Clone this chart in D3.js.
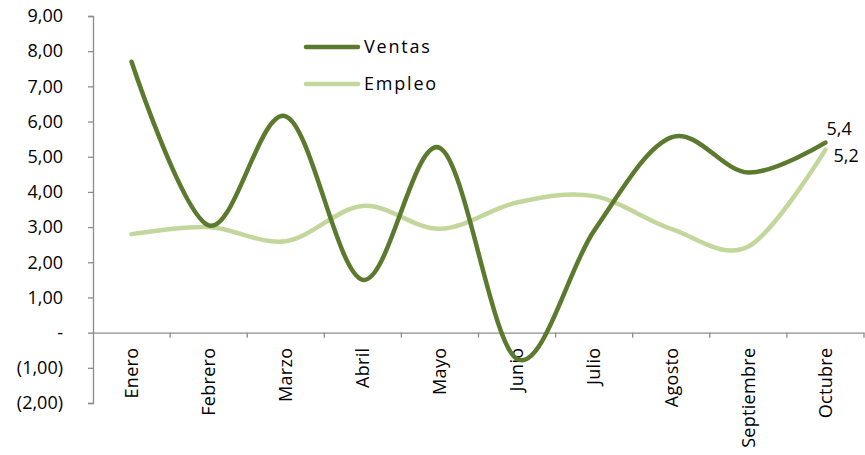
<!DOCTYPE html>
<html>
<head>
<meta charset="utf-8">
<script src="https://cdn.jsdelivr.net/npm/d3@7"></script>
<style>
  body { margin: 0; background: #fff; }
  svg text { font-family: "Open Sans", "DejaVu Sans", sans-serif; fill: #000; }
</style>
</head>
<body>
<svg id="chart" width="865" height="455"></svg>
<script>
const months = ['Enero', 'Febrero', 'Marzo', 'Abril', 'Mayo', 'Junio', 'Julio', 'Agosto', 'Septiembre', 'Octubre'];
const ventas = [7.7, 3.05, 6.15, 1.5, 5.25, -0.75, 2.9, 5.55, 4.55, 5.4];
const empleo = [2.8, 3.0, 2.6, 3.6, 2.95, 3.7, 3.88, 2.95, 2.45, 5.2];
const yTicks = [9, 8, 7, 6, 5, 4, 3, 2, 1, 0, -1, -2];

const svg = d3.select('#chart');
const margin = { top: 16, right: 1, bottom: 52, left: 93 };
const width = 865 - margin.left - margin.right;
const height = 455 - margin.top - margin.bottom;

const g = svg.append('g').attr('transform', `translate(${margin.left},${margin.top})`);

const x = d3.scaleBand().domain(months).range([0, width]);
const y = d3.scaleLinear().domain([-2, 9]).range([height, 0]);

const fmt = v => {
  if (v === 0) return '-';
  const s = Math.abs(v).toFixed(2).replace('.', ',');
  return v < 0 ? `(${s})` : s;
};

// y axis
const yAxis = g.append('g')
  .call(d3.axisLeft(y).tickValues(yTicks).tickFormat(fmt).tickSize(5).tickPadding(25));
yAxis.select('.domain').attr('stroke', '#8c8c8c').attr('stroke-width', 1.3);
yAxis.selectAll('.tick line').attr('stroke', '#8c8c8c').attr('stroke-width', 1.3);
yAxis.selectAll('.tick text').style('font-size', '18px').attr('fill', '#000');

// x axis at zero
const xAxis = g.append('g')
  .attr('transform', `translate(0,${y(0)})`)
  .call(d3.axisBottom(x).tickSize(0).tickFormat(''));
xAxis.select('.domain').attr('stroke', '#8c8c8c').attr('stroke-width', 1.3);
xAxis.selectAll('.tick').remove();

// category boundary ticks
g.append('g').selectAll('line')
  .data(months.map((m, i) => i + 1))
  .join('line')
  .attr('x1', i => i * x.bandwidth())
  .attr('x2', i => i * x.bandwidth())
  .attr('y1', y(0))
  .attr('y2', y(0) + 5)
  .attr('stroke', '#8c8c8c')
  .attr('stroke-width', 1.3);

// rotated month labels
g.append('g').selectAll('text')
  .data(months)
  .join('text')
  .attr('transform', d => `translate(${x(d) + x.bandwidth() / 2},${y(0) + 15}) rotate(-90)`)
  .attr('text-anchor', 'end')
  .attr('dy', '0.35em')
  .style('font-size', '18px')
  .style('letter-spacing', '0.3px')
  .text(d => d);

const line = d3.line()
  .x((d, i) => x(months[i]) + x.bandwidth() / 2)
  .y(d => y(d))
  .curve(d3.curveCardinal.tension(0));

g.append('path')
  .datum(empleo)
  .attr('d', line)
  .attr('fill', 'none')
  .attr('stroke', '#c3d69b')
  .attr('stroke-width', 4.5)
  .attr('stroke-linecap', 'round');

g.append('path')
  .datum(ventas)
  .attr('d', line)
  .attr('fill', 'none')
  .attr('stroke', '#5b7a2e')
  .attr('stroke-width', 4.5)
  .attr('stroke-linecap', 'round');

// end labels
const last = months.length - 1;
const lx = x(months[last]) + x.bandwidth() / 2;
g.append('text')
  .attr('x', lx + 1)
  .attr('y', y(ventas[last]) - 8)
  .style('font-size', '18px')
  .text(String(ventas[last]).replace('.', ','));
g.append('text')
  .attr('x', lx + 8)
  .attr('y', y(empleo[last]) + 6)
  .attr('dy', '0.35em')
  .style('font-size', '18px')
  .text(String(empleo[last]).replace('.', ','));

// legend
const legend = svg.append('g').attr('transform', 'translate(306,47)');
[['Ventas', '#5b7a2e'], ['Empleo', '#c3d69b']].forEach(([name, color], i) => {
  const row = legend.append('g').attr('transform', `translate(0,${i * 37})`);
  row.append('line')
    .attr('x1', 0).attr('x2', 52)
    .attr('stroke', color).attr('stroke-width', 4.5).attr('stroke-linecap', 'round');
  row.append('text')
    .attr('x', 58)
    .attr('dy', '0.35em')
    .style('font-size', '18px')
    .style('letter-spacing', '1.8px')
    .text(name);
});
</script>
</body>
</html>
